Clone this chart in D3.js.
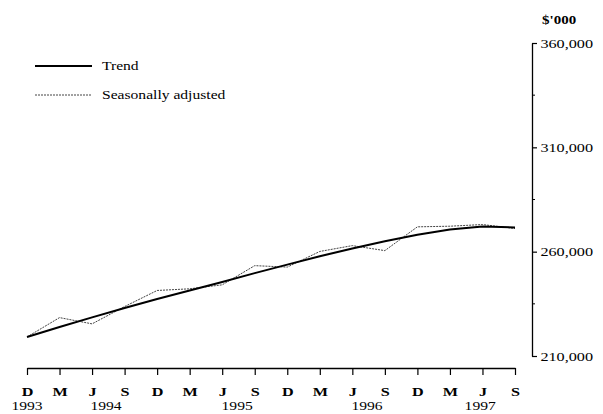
<!DOCTYPE html>
<html><head><meta charset="utf-8">
<script src="https://cdn.jsdelivr.net/npm/d3@7"></script>
<style>body{margin:0;background:#fff}svg{display:block}</style>
</head><body>
<svg id="c" width="603" height="414"></svg>
<script>
const quarters = ["D","M","J","S","D","M","J","S","D","M","J","S","D","M","J","S"];
const years = ["1993","1994","1995","1996","1997"];
const yearPos = [0, 2.43, 6.46, 10.45, 13.93];
const trend = [219100,223900,228500,233000,237300,241400,245500,249700,253800,257800,261500,265000,268100,270600,272100,271600];
const seasonal = [219100,228400,225400,233700,241400,242200,244100,253300,252600,260100,262900,260500,271900,272200,273000,271100];
const yTicks = [210000,260000,310000,360000];
const yMinor = [235000,285000,335000];
const legendLabels = ["Trend","Seasonally adjusted"];

const svg = d3.select("#c");
const font = "'Liberation Serif', 'Times New Roman', Times, serif";
const SX = 1.2;

const x = d3.scaleLinear().domain([0, quarters.length - 1]).range([27, 515]);
const y = d3.scaleLinear().domain([210000, 360000]).range([356, 43]);

// x axis
const xAxis = d3.axisBottom(x).tickValues(d3.range(quarters.length))
  .tickFormat(i => quarters[i]).tickSize(7).tickSizeOuter(0).tickPadding(11);
const gx = svg.append("g").attr("transform", "translate(0,368)").call(xAxis);
gx.attr("font-family", null);
gx.select(".domain").attr("stroke", "#000").attr("stroke-width", 1.3);
gx.selectAll(".tick line").attr("stroke", "#000").attr("stroke-width", 1.2);
gx.selectAll(".tick text").style("font-family", font).style("font-size", "13.5px")
  .attr("font-weight", "bold").attr("fill", "#000").attr("transform", `scale(${SX},1)`);

svg.append("g").selectAll("text").data(years).join("text")
  .attr("transform", (d, i) => `translate(${x(yearPos[i])},410) scale(${SX},1)`)
  .attr("text-anchor", "middle").style("font-family", font).style("font-size", "13px")
  .attr("fill", "#000").text(d => d);

// y axis (right)
const yAxis = d3.axisRight(y).tickValues(yTicks).tickFormat(d3.format(","))
  .tickSize(5).tickSizeOuter(0).tickPadding(2);
const gy = svg.append("g").attr("transform", "translate(532,0)").call(yAxis);
gy.select(".domain").attr("stroke", "#000").attr("stroke-width", 1.3);
gy.selectAll(".tick line").attr("stroke", "#000").attr("stroke-width", 1.2);
gy.selectAll(".tick text").style("font-family", font).style("font-size", "13.5px")
  .attr("fill", "#000").attr("x", 7).attr("transform", `scale(${SX},1)`);
gy.append("g").selectAll("line").data(yMinor).join("line")
  .attr("x1", 0).attr("x2", 3).attr("y1", d => y(d)).attr("y2", d => y(d))
  .attr("stroke", "#000").attr("stroke-width", 1);

svg.append("text").attr("transform", `translate(542,24) scale(${SX},1)`)
  .style("font-family", font).style("font-size", "12.5px").attr("font-weight", "bold")
  .attr("fill", "#000").text("$'000");

// lines
const line = d3.line().x((d, i) => x(i)).y(d => y(d));
svg.append("path").datum(seasonal).attr("d", line).attr("fill", "none")
  .attr("stroke", "#444").attr("stroke-width", 1).attr("stroke-dasharray", "2,1");
svg.append("path").datum(trend).attr("d", line).attr("fill", "none")
  .attr("stroke", "#000").attr("stroke-width", 2);

// legend
const lg = svg.append("g");
const ly = [66, 95];
lg.append("line").attr("x1", 35).attr("x2", 92).attr("y1", ly[0]).attr("y2", ly[0])
  .attr("stroke", "#000").attr("stroke-width", 1.8);
lg.append("line").attr("x1", 35).attr("x2", 92).attr("y1", ly[1]).attr("y2", ly[1])
  .attr("stroke", "#444").attr("stroke-width", 1).attr("stroke-dasharray", "2,1");
lg.selectAll("text").data(legendLabels).join("text")
  .attr("transform", (d, i) => `translate(102,${ly[i] + 4}) scale(${SX},1)`)
  .style("font-family", font).style("font-size", "13px").attr("fill", "#000").text(d => d);
</script>
</body></html>
